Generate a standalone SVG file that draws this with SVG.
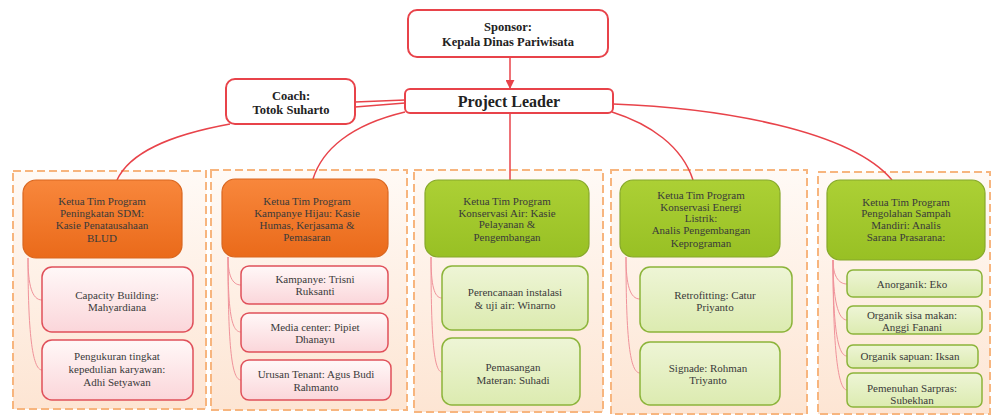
<svg xmlns="http://www.w3.org/2000/svg" width="997" height="417" viewBox="0 0 997 417">
<defs>
<linearGradient id="gCol" x1="0" y1="0" x2="0" y2="1"><stop offset="0" stop-color="#fffaf6"/><stop offset="1" stop-color="#fde5d3"/></linearGradient>
<linearGradient id="gOr" x1="0" y1="0" x2="0" y2="1"><stop offset="0" stop-color="#f8873c"/><stop offset="1" stop-color="#ea6a1a"/></linearGradient>
<linearGradient id="gGr" x1="0" y1="0" x2="0" y2="1"><stop offset="0" stop-color="#acd035"/><stop offset="1" stop-color="#98c024"/></linearGradient>
<linearGradient id="gPk" x1="0" y1="0" x2="0" y2="1"><stop offset="0" stop-color="#fff8f8"/><stop offset="1" stop-color="#fbd6da"/></linearGradient>
<linearGradient id="gLg" x1="0" y1="0" x2="0" y2="1"><stop offset="0" stop-color="#eef5d6"/><stop offset="1" stop-color="#dcebb0"/></linearGradient>
<marker id="arr" viewBox="0 0 10 10" refX="9" refY="5" markerWidth="6" markerHeight="6" orient="auto"><path d="M0,0 L10,5 L0,10 z" fill="#e8434a"/></marker>
</defs>
<style>
.top{fill:#fff;stroke:#e8434a;stroke-width:2}
.col{fill:url(#gCol);stroke:#f7b57e;stroke-width:2;stroke-dasharray:8 4}
.lo{fill:url(#gOr);stroke:#d9661f;stroke-width:1.2}
.lg{fill:url(#gGr);stroke:#86a82a;stroke-width:1.2}
.sp{fill:url(#gPk);stroke:#e0505a;stroke-width:1.5}
.sg{fill:url(#gLg);stroke:#8cb43a;stroke-width:1.5}
.ln{fill:none;stroke:#e8434a;stroke-width:1.5}
.sl{fill:none;stroke:#f0929a;stroke-width:1}
text{font-family:'Liberation Serif','DejaVu Serif',serif;text-anchor:middle;fill:#3a3a3a;font-size:11px}
.b{font-weight:bold;fill:#222;font-size:12.5px}
.pl{font-weight:bold;fill:#222;font-size:16px}
</style>
<g id="columns">
<rect class="col" x="13" y="171" width="193" height="238"/>
<rect class="col" x="211" y="170" width="196" height="240"/>
<rect class="col" x="414" y="170" width="189" height="242"/>
<rect class="col" x="611" y="170" width="196" height="244"/>
<rect class="col" x="818" y="172" width="172" height="242"/>
</g>
<g id="connectors">
<line class="ln" x1="510" y1="57" x2="510" y2="88" marker-end="url(#arr)"/>
<line class="ln" x1="355" y1="102" x2="405" y2="100"/>
<line class="ln" x1="355" y1="107" x2="405" y2="103"/>
<path class="ln" d="M230,124 C170,135 130,152 117,180"/>
<path class="ln" d="M405,112 C350,125 322,150 313,179"/>
<line class="ln" x1="510" y1="113" x2="510" y2="180"/>
<path class="ln" d="M612,112 C650,124 682,146 693,180"/>
<path class="ln" d="M613,104 C720,108 850,130 892,180"/>
<path class="sl" d="M28,258 C28,285 32,300 42,300"/>
<path class="sl" d="M28,258 C28,330 32,370 42,370"/>
<path class="sl" d="M228,257 C228,275 232,285 241,285"/>
<path class="sl" d="M228,257 C228,315 232,332 241,332"/>
<path class="sl" d="M228,257 C228,350 232,380 241,380"/>
<path class="sl" d="M431,257 C431,285 434,298 442,298"/>
<path class="sl" d="M431,257 C431,340 434,372 442,372"/>
<path class="sl" d="M626,257 C626,285 630,299 640,299"/>
<path class="sl" d="M626,257 C626,340 630,373 640,373"/>
<path class="sl" d="M833,260 C833,275 838,284 847,284"/>
<path class="sl" d="M833,260 C833,300 838,320 847,320"/>
<path class="sl" d="M833,260 C833,330 838,356 847,356"/>
<path class="sl" d="M833,260 C833,350 838,390 847,390"/>
</g>
<g font-family="'Liberation Serif','DejaVu Serif',serif">
<g id="sponsor"><rect class="top" x="408" y="10" width="200" height="47" rx="9"/><text class="b" x="508" y="31">Sponsor:</text><text class="b" x="508" y="46">Kepala Dinas Pariwisata</text></g>
<g id="coach"><rect class="top" x="226" y="79" width="129" height="45" rx="9"/><text class="b" x="291" y="100">Coach:</text><text class="b" x="291" y="114">Totok Suharto</text></g>
<g id="project-leader"><rect class="top" x="405" y="89" width="208" height="24" rx="5"/><text class="pl" x="509" y="107">Project Leader</text></g>

<g id="lead1"><rect class="lo" x="23" y="180" width="159" height="78" rx="13"/><text x="102" y="205">Ketua Tim Program</text><text x="102" y="217">Peningkatan SDM:</text><text x="102" y="229">Kasie Penatausahaan</text><text x="102" y="242">BLUD</text></g>
<g id="sub1a"><rect class="sp" x="42" y="267" width="151" height="65" rx="10"/><text x="117" y="299">Capacity Building:</text><text x="117" y="311">Mahyardiana</text></g>
<g id="sub1b"><rect class="sp" x="42" y="340" width="151" height="60" rx="10"/><text x="117" y="360">Pengukuran tingkat</text><text x="117" y="373">kepedulian karyawan:</text><text x="117" y="386">Adhi Setyawan</text></g>

<g id="lead2"><rect class="lo" x="222" y="179" width="166" height="78" rx="13"/><text x="307" y="205">Ketua Tim Program</text><text x="307" y="217">Kampanye Hijau: Kasie</text><text x="307" y="229">Humas, Kerjasama &amp;</text><text x="307" y="241">Pemasaran</text></g>
<g id="sub2a"><rect class="sp" x="241" y="266" width="147" height="38" rx="8"/><text x="315" y="283">Kampanye: Trisni</text><text x="315" y="295">Ruksanti</text></g>
<g id="sub2b"><rect class="sp" x="241" y="313" width="147" height="39" rx="8"/><text x="315" y="331">Media center: Pipiet</text><text x="315" y="343">Dhanayu</text></g>
<g id="sub2c"><rect class="sp" x="241" y="360" width="150" height="40" rx="8"/><text x="316" y="378">Urusan Tenant: Agus Budi</text><text x="316" y="391">Rahmanto</text></g>

<g id="lead3"><rect class="lg" x="425" y="180" width="164" height="77" rx="13"/><text x="507" y="205">Ketua Tim Program</text><text x="507" y="217">Konservasi Air: Kasie</text><text x="507" y="228">Pelayanan &amp;</text><text x="507" y="241">Pengembangan</text></g>
<g id="sub3a"><rect class="sg" x="442" y="266" width="146" height="64" rx="10"/><text x="515" y="296">Perencanaan instalasi</text><text x="515" y="309">&amp; uji air: Winarno</text></g>
<g id="sub3b"><rect class="sg" x="442" y="338" width="138" height="67" rx="10"/><text x="513" y="371">Pemasangan</text><text x="513" y="384">Materan: Suhadi</text></g>

<g id="lead4"><rect class="lg" x="620" y="180" width="160" height="77" rx="13"/><text x="701" y="199">Ketua Tim Program</text><text x="701" y="211">Konservasi Energi</text><text x="701" y="222">Listrik:</text><text x="701" y="234">Analis Pengembangan</text><text x="701" y="247">Keprograman</text></g>
<g id="sub4a"><rect class="sg" x="640" y="267" width="152" height="65" rx="10"/><text x="715" y="299">Retrofitting: Catur</text><text x="715" y="311">Priyanto</text></g>
<g id="sub4b"><rect class="sg" x="640" y="342" width="140" height="63" rx="10"/><text x="708" y="372">Signade: Rohman</text><text x="708" y="384">Triyanto</text></g>

<g id="lead5"><rect class="lg" x="827" y="180" width="158" height="80" rx="13"/><text x="906" y="206">Ketua Tim Program</text><text x="906" y="217">Pengolahan Sampah</text><text x="906" y="229">Mandiri: Analis</text><text x="906" y="241">Sarana Prasarana:</text></g>
<g id="sub5a"><rect class="sg" x="847" y="270" width="135" height="27" rx="6"/><text x="912" y="288">Anorganik: Eko</text></g>
<g id="sub5b"><rect class="sg" x="847" y="306" width="135" height="28" rx="6"/><text x="912" y="319">Organik sisa makan:</text><text x="912" y="331">Anggi Fanani</text></g>
<g id="sub5c"><rect class="sg" x="847" y="345" width="131" height="23" rx="6"/><text x="910" y="360">Organik sapuan: Iksan</text></g>
<g id="sub5d"><rect class="sg" x="847" y="373" width="135" height="34" rx="6"/><text x="912" y="392">Pemenuhan Sarpras:</text><text x="912" y="404">Subekhan</text></g>
</g>
</svg>
